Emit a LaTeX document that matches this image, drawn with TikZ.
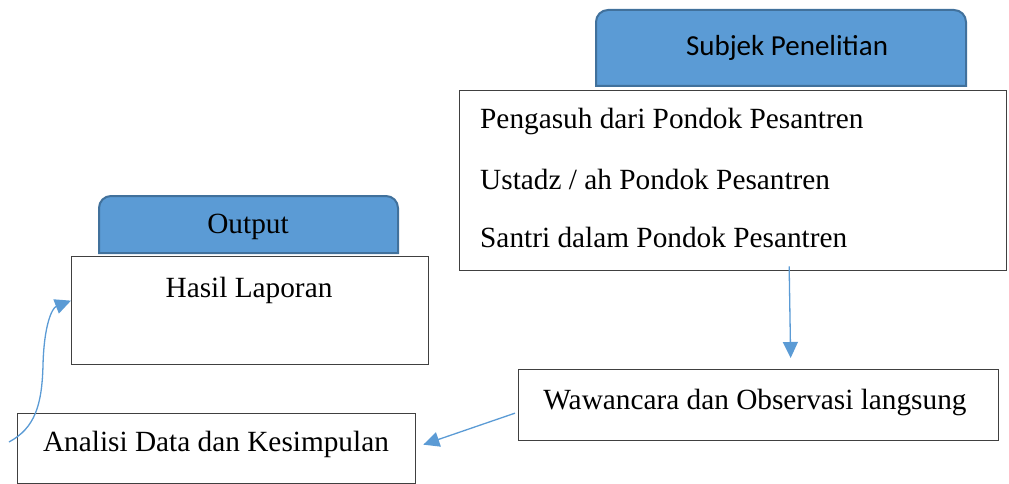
\documentclass[tikz,border=0pt]{standalone}
\usepackage{fontspec}
\setmainfont{Liberation Serif}
\newfontfamily\calfont{Carlito}
\usetikzlibrary{arrows.meta,calc}
\definecolor{tabblue}{HTML}{5B9BD5}
\definecolor{tabedge}{HTML}{41719C}
\definecolor{boxedge}{HTML}{404040}
\tikzset{
  tabbox/.style={draw=tabedge, line width=2pt, fill=tabblue},
  plainbox/.style={draw=boxedge, line width=1.3pt, fill=white, rectangle, inner sep=0pt},
  lbl/.style={inner sep=0pt, font=\fontsize{29.3}{34}\selectfont},
  conn/.style={draw=tabblue, line width=1.3pt, -{Triangle[length=16pt,width=15pt]}}
}
\begin{document}
\begin{tikzpicture}[x=1pt,y=-1pt]
\useasboundingbox (0,0) rectangle (1009,484);
% tabs (top corners rounded)
\path[tabbox] (596,86) -- (596,22) arc[start angle=180,end angle=90,radius=12pt] -- (954,10) arc[start angle=90,end angle=0,radius=12pt] -- (966,86) -- cycle;
\path[tabbox] (99,253) -- (99,208) arc[start angle=180,end angle=90,radius=12pt] -- (386,196) arc[start angle=90,end angle=0,radius=12pt] -- (398,253) -- cycle;
\node[lbl, font=\calfont\fontsize{29}{34}\selectfont] (subj) at (787,48) {Subjek Penelitian};
\node[lbl] (out) at (248,227) {Output};
% boxes
\node[plainbox, anchor=north west, minimum width=547pt, minimum height=180pt] (big) at (459,90) {};
\node[plainbox, anchor=north west, minimum width=357pt, minimum height=108pt] (hasil) at (71,256) {};
\node[plainbox, anchor=north west, minimum width=398pt, minimum height=70pt] (anal) at (17,413) {};
\node[plainbox, anchor=north west, minimum width=480pt, minimum height=71pt] (waw) at (518,369) {};
% texts
\node[lbl, anchor=west] (t1) at (480,121) {Pengasuh dari Pondok Pesantren};
\node[lbl, anchor=west] (t2) at (480,179) {Ustadz / ah Pondok Pesantren};
\node[lbl, anchor=west] (t3) at (480,237) {Santri dalam Pondok Pesantren};
\node[lbl] (thasil) at (249,290) {Hasil Laporan};
\node[lbl] (twaw) at (755,402) {Wawancara dan Observasi langsung};
\node[lbl] (tanal) at (216,444) {Analisi Data dan Kesimpulan};
% connectors
\coordinate (dstart) at ($(big.south)+(56,-5)$);
\coordinate (dend) at ($(waw.north)+(32,-11)$);
\draw[conn] (dstart) -- (dend);
\coordinate (lstart) at ($(waw.west)+(-3,8)$);
\coordinate (lend) at ($(anal.east)+(7,-4)$);
\draw[conn] (lstart) -- (lend);
\coordinate (cstart) at (9,442);
\coordinate (cend) at ([yshift=10pt]hasil.west);
\draw[conn] (cstart) .. controls (35,428) and (42,405) .. (43,365) .. controls (44,325) and (52,308) .. (cend);
\end{tikzpicture}
\end{document}
